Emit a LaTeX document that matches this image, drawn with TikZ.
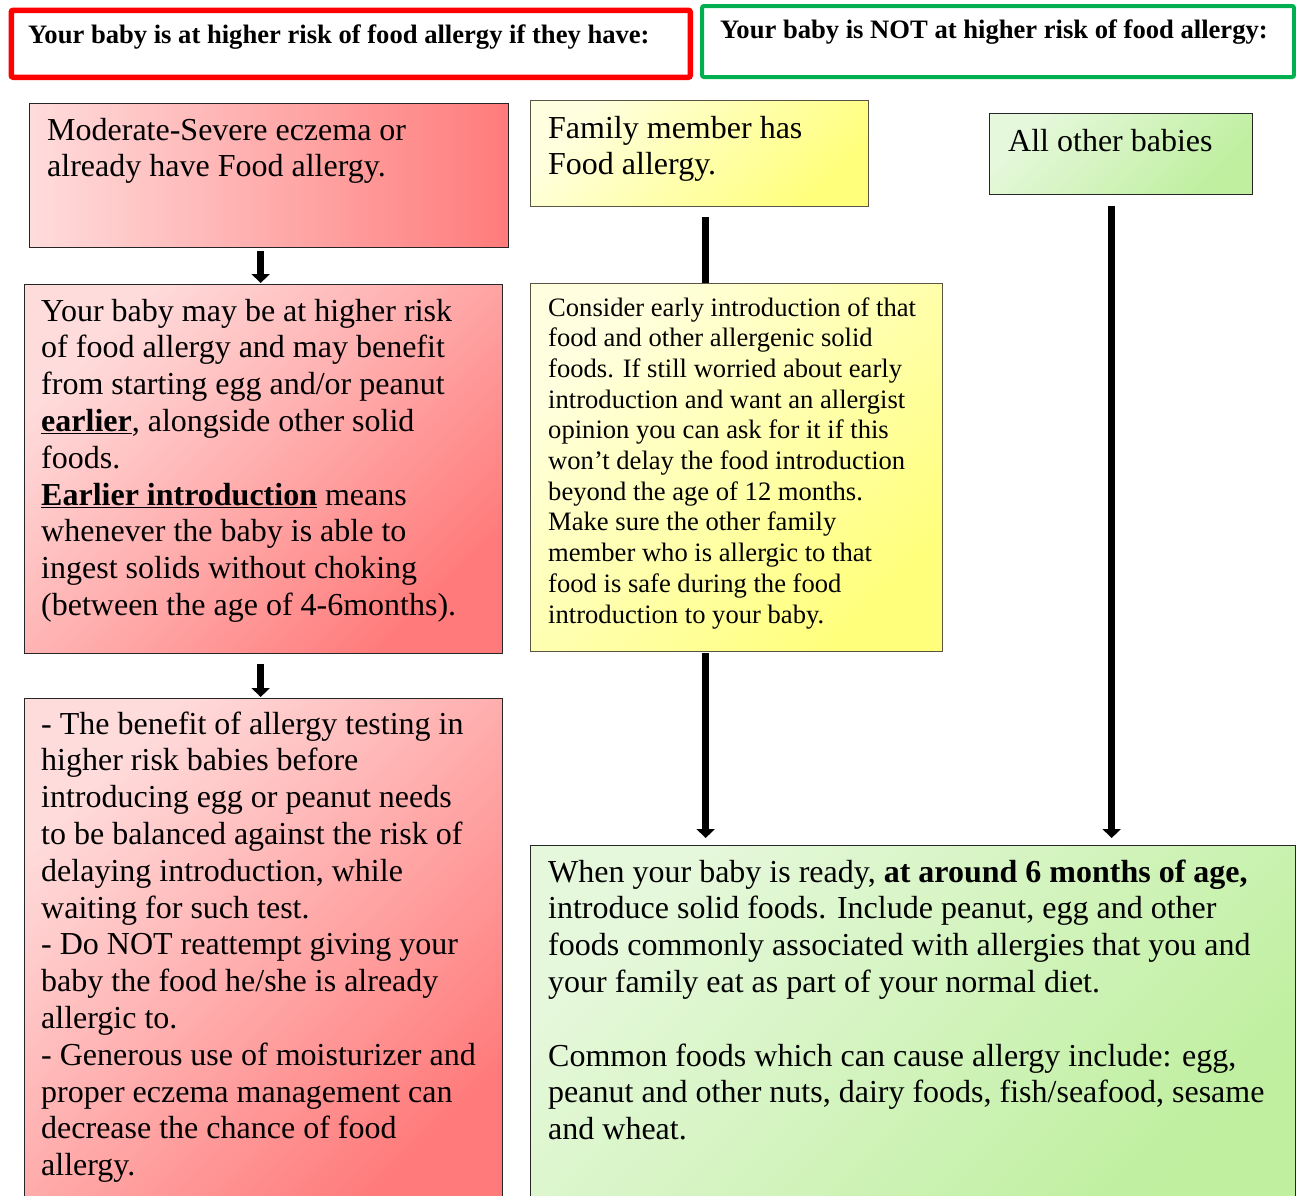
\documentclass[tikz,border=0pt]{standalone}
\usepackage{fontspec}
\setmainfont{Liberation Serif}
\usetikzlibrary{arrows.meta,calc}
\definecolor{redlight}{HTML}{FFDCDC}
\definecolor{reddark}{HTML}{FF7B7B}
\definecolor{yellight}{HTML}{FFFFE0}
\definecolor{yeldark}{HTML}{FFFF7C}
\definecolor{grnlight}{HTML}{E6F8DC}
\definecolor{grndark}{HTML}{BFEF9F}
\definecolor{hdrgreen}{RGB}{0,176,80}
\definecolor{hdrred}{RGB}{255,0,0}
\begin{document}
\begin{tikzpicture}[x=1pt,y=-1pt,
  box/.style={draw=black!85, line width=1.3pt, inner sep=0pt, anchor=north west},
  redbox/.style={box, top color=redlight, bottom color=reddark, shading angle=45},
  redhbox/.style={box, left color=redlight, right color=reddark},
  yelbox/.style={box, draw=black!75!yellow, top color=yellight, bottom color=yeldark, shading angle=45},
  grnbox/.style={box, top color=grnlight, bottom color=grndark, shading angle=45},
  txt/.style={inner sep=0pt, anchor=base west, font=\fontsize{32}{36.8}\selectfont},
  smalltxt/.style={txt, font=\fontsize{26.6}{30.7}\selectfont},
  hdrtxt/.style={inner sep=0pt, anchor=base west, font=\bfseries\fontsize{26.6}{30}\selectfont},
  arr/.style={line width=7pt, -{Triangle[width=18pt,length=9pt]}},
  link/.style={line width=7pt}]
\useasboundingbox (0,0) rectangle (1296,1195);

% headers
\node[draw=hdrred, line width=5.5pt, rounded corners=2pt, minimum width=679pt, minimum height=67pt, anchor=north west, inner sep=0pt] (H1) at (8.5,7.5) {};
\node[hdrtxt] (H1t) at (28,43) {Your baby is at higher risk of food allergy if they have:};
\node[draw=hdrgreen, line width=4pt, rounded corners=2pt, minimum width=592pt, minimum height=71pt, anchor=north west, inner sep=0pt] (H2) at (700,4) {};
\node[hdrtxt] (H2t) at (720,38) {Your baby is NOT at higher risk of food allergy:};

% left column
\node[redhbox, minimum width=479pt, minimum height=144pt] (A) at (29,103) {};
\node[txt] (At) at (47,140) {\begin{tabular}[t]{@{}l@{}}Moderate-Severe eczema or\\already have Food allergy.\end{tabular}};

\node[redbox, minimum width=478pt, minimum height=369pt] (B) at (24,284) {};
\node[txt] (Bt) at (41,321) {\begin{tabular}[t]{@{}l@{}}Your baby may be at higher risk\\
of food allergy and may benefit\\
from starting egg and/or peanut\\
\underline{\textbf{earlier}}, alongside other solid\\
foods.\\
\underline{\textbf{Earlier introduction}} means\\
whenever the baby is able to\\
ingest solids without choking\\
(between the age of 4-6months).\end{tabular}};

\node[redbox, minimum width=478pt, minimum height=510pt] (C) at (24,698) {};
\node[txt] (Ct) at (41,734) {\begin{tabular}[t]{@{}l@{}}- The benefit of allergy testing in\\
higher risk babies before\\
introducing egg or peanut needs\\
to be balanced against the risk of\\
delaying introduction, while\\
waiting for such test.\\
- Do NOT reattempt giving your\\
baby the food he/she is already\\
allergic to.\\
- Generous use of moisturizer and\\
proper eczema management can\\
decrease the chance of food\\
allergy.\end{tabular}};

% middle column
\node[yelbox, minimum width=338pt, minimum height=106pt] (D) at (530,100) {};
\node[txt] (Dt) at (548,138) {\begin{tabular}[t]{@{}l@{}}Family member has\\Food allergy.\end{tabular}};

\node[yelbox, minimum width=412pt, minimum height=368pt] (E) at (530,283) {};
\node[smalltxt] (Et) at (548,316) {\begin{tabular}[t]{@{}l@{}}Consider early introduction of that\\
food and other allergenic solid\\
foods. If still worried about early\\
introduction and want an allergist\\
opinion you can ask for it if this\\
won’t delay the food introduction\\
beyond the age of 12 months.\\
Make sure the other family\\
member who is allergic to that\\
food is safe during the food\\
introduction to your baby.\end{tabular}};

% right column
\node[grnbox, minimum width=263pt, minimum height=81pt] (G) at (989,113) {};
\node[txt] (Gt) at (1008,151) {All other babies};

\node[grnbox, minimum width=765pt, minimum height=365pt] (F) at (530,845) {};
\node[txt] (Ft) at (548,882) {\begin{tabular}[t]{@{}l@{}}When your baby is ready, \textbf{at around 6 months of age,}\\
introduce solid foods. Include peanut, egg and other\\
foods commonly associated with allergies that you and\\
your family eat as part of your normal diet.\\
\\
Common foods which can cause allergy include: egg,\\
peanut and other nuts, dairy foods, fish/seafood, sesame\\
and wheat.\end{tabular}};

% connectors
\draw[arr] ($(A.south)+(-8.5,3)$) -- ($(B.north)+(-3,-1)$);
\draw[arr] ($(B.south)+(-3,10)$) -- ($(C.north)+(-3,-1)$);
\draw[link] ($(D.south)+(6,10)$) -- ($(E.north)+(-31,0)$);
\draw[arr] ($(E.south)+(-31,1)$) -- ($(F.north)+(-207.5,-7)$);
\draw[arr] ($(G.south)+(-9.5,11)$) -- ($(F.north)+(198.5,-7)$);
\end{tikzpicture}
\end{document}
